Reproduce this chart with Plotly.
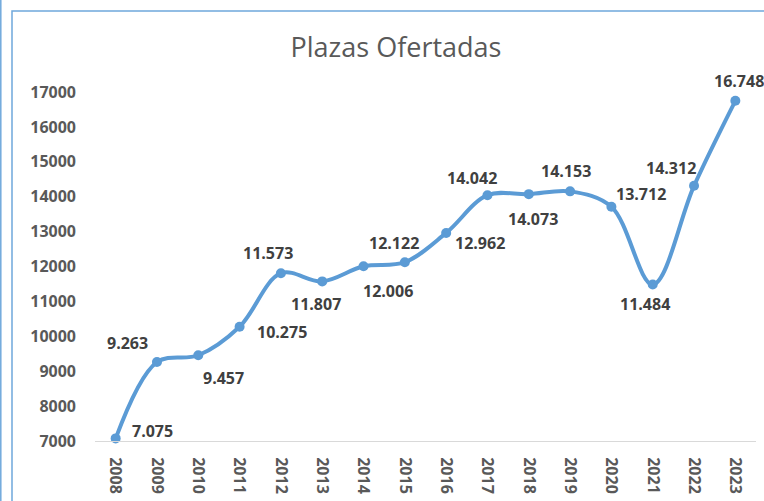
import plotly.graph_objects as go

# ─── data ───
years = [str(y) for y in range(2008, 2024)]
plazas = [7075, 9263, 9457, 10275, 11807, 11573, 12006, 12122,
          12962, 14042, 14073, 14153, 13712, 11484, 14312, 16748]
# etiquetas tal como aparecen en el gráfico original
etiquetas = ['7.075', '9.263', '9.457', '10.275', '11.573', '11.807', '12.006', '12.122',
             '12.962', '14.042', '14.073', '14.153', '13.712', '11.484', '14.312', '16.748']
y_ticks = list(range(7000, 18000, 1000))

# desplazamiento (px) de cada etiqueta respecto a su punto
shift = [(37, 7), (-29, 19), (25, -23), (42, -5), (-13, 20), (-6, -23), (24, -25), (-11, 19),
         (34, -10), (-15, 17), (4, -25), (-4, 20), (30, 13), (-8, -19), (-23, 18), (4, 20)]

C = {
    'line': '#5B9BD5',
    'label': '#404040',
    'tick': '#595959',
    'axis': '#D9D9D9',
    'border': '#6FA8DC',
}
FONT = 'Open Sans'

fig = go.Figure()
fig.add_trace(go.Scatter(
    x=years, y=plazas, mode='lines+markers',
    line=dict(color=C['line'], width=4, shape='spline', smoothing=1),
    marker=dict(color=C['line'], size=10),
    showlegend=False, cliponaxis=False,
))

# en ejes de categorías la anotación usa el índice de la categoría
for i, (v, t, (dx, dy)) in enumerate(zip(plazas, etiquetas, shift)):
    fig.add_annotation(
        x=i, y=v, text=t, showarrow=False,
        xshift=dx, yshift=dy,
        font=dict(family=FONT, size=16, color=C['label'], weight='bold'),
    )

# marco del gráfico (estilo Excel)
W, L, R, T, B = 764, 95, 8, 92, 60
pw, ph = W - L - R, 501 - T - B


def px(xp):
    return (xp - L) / pw


def py(yp):
    return 1 - (yp - T) / ph


fig.add_shape(type='rect', xref='paper', yref='paper',
              x0=px(12), x1=px(790), y0=py(11), y1=py(530),
              line=dict(color=C['border'], width=1.5), layer='below')
fig.add_shape(type='line', xref='paper', yref='paper',
              x0=px(0.8), x1=px(0.8), y0=py(-10), y1=py(530),
              line=dict(color=C['border'], width=1.5), layer='below')

fig.update_layout(
    width=W, height=501,
    paper_bgcolor='white', plot_bgcolor='white',
    margin=dict(l=L, r=R, t=T, b=B),
    title=dict(text='Plazas Ofertadas', x=px(396), xref='paper', xanchor='center',
               y=1 - 48 / 501, yanchor='middle',
               font=dict(family=FONT, size=27, color=C['tick'])),
    font=dict(family=FONT),
    xaxis=dict(
        type='category', range=[-0.5, 15.5],
        showgrid=False, zeroline=False,
        showline=True, linecolor=C['axis'], linewidth=1,
        tickangle=90, ticklabelstandoff=12,
        tickfont=dict(family=FONT, size=16, color=C['tick'], weight='bold'),
    ),
    yaxis=dict(
        range=[7000, 17000], tickvals=y_ticks, tickformat='d',
        showgrid=False, zeroline=False, showline=False,
        ticklabelstandoff=18,
        tickfont=dict(family=FONT, size=16, color=C['tick'], weight='bold'),
    ),
)

fig.write_html('out.html', config={'displayModeBar': False},
               post_script="document.body.style.margin='0';")
